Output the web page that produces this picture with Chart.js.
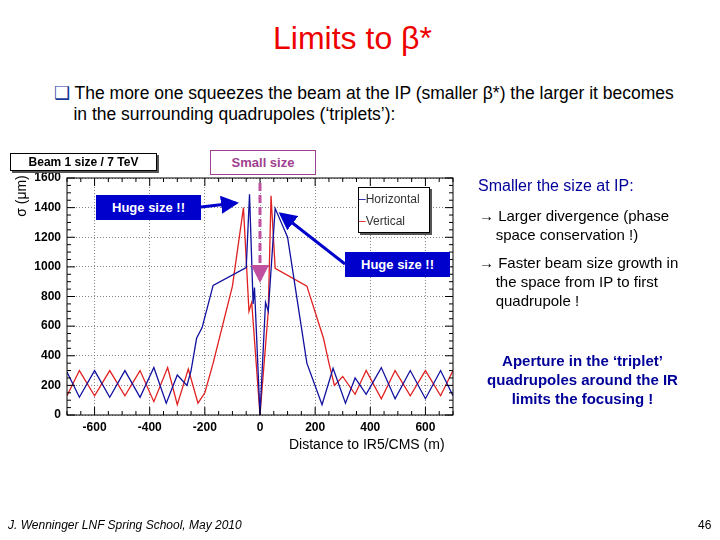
<!DOCTYPE html>
<html><head><meta charset="utf-8">
<script src="https://cdn.jsdelivr.net/npm/chart.js@4/dist/chart.umd.min.js"></script>
<style>
body{margin:0;width:720px;height:540px;background:#fff;font-family:"Liberation Sans",Arial,sans-serif;position:relative;overflow:hidden}
.a{position:absolute;white-space:nowrap}
.box{position:absolute;background:#0000cc;color:#fff;font-weight:bold;font-size:13px;text-align:center;line-height:25px}
</style></head><body>
<div class="a" style="left:0;width:705px;top:20px;text-align:center;color:#ee0000;font-size:32px">Limits to β*</div>
<div class="a" style="left:54px;top:83px;font-size:17.5px;line-height:21px;color:#000"><span style="color:#1a3a9a">❑</span> The more one squeezes the beam at the IP (smaller β*) the larger it becomes<br>&nbsp;&nbsp;&nbsp;&nbsp;in the surrounding quadrupoles (‘triplets’):</div>
<canvas id="c" style="position:absolute;left:10px;top:150px;width:450px;height:310px" width="450" height="310"></canvas>
<div class="a" style="left:10px;top:153px;width:145px;height:16px;border:1px solid #000;box-shadow:2px 2px 0 #555;background:#fff;font-weight:bold;font-size:12px;text-align:center;line-height:16px">Beam 1 size / 7 TeV</div>
<div class="a" style="left:210px;top:150px;width:104px;height:23px;border:1px solid #a04090;background:#fff;color:#a04090;font-weight:bold;font-size:13px;text-align:center;line-height:23px">Small size</div>
<div class="a" style="left:358px;top:187px;width:70px;height:44px;border:1px solid #000;box-shadow:2px 2px 0 #555;background:#fff;font-size:12px;line-height:22px;color:#333"><span style="color:#1010a0">–</span>Horizontal<br><span style="color:#e02020">–</span>Vertical</div>
<div class="box" style="left:96px;top:195px;width:105px">Huge size !!</div>
<div class="box" style="left:345px;top:252px;width:105px">Huge size !!</div>
<div class="a" style="left:10px;top:178px;width:20px;height:40px;"><div style="transform:rotate(-90deg);transform-origin:center;position:absolute;left:-14px;top:10px;width:50px;text-align:center;font-size:14px">σ (μm)</div></div>
<div class="a" style="left:289px;top:436px;font-size:14px">Distance to IR5/CMS (m)</div>
<svg style="position:absolute;left:0;top:0" width="720" height="540">
<defs><marker id="m1" markerWidth="6" markerHeight="6" refX="5" refY="3" orient="auto"><path d="M0,0L6,3L0,6z" fill="#0000cc"/></marker>
<marker id="m2" markerWidth="6" markerHeight="6" refX="5" refY="3" orient="auto"><path d="M0,0L6,3L0,6z" fill="#c050a0"/></marker></defs>
<line x1="201" y1="207" x2="236" y2="203" stroke="#0000cc" stroke-width="3" marker-end="url(#m1)"/>
<line x1="345" y1="264" x2="281" y2="214" stroke="#0000cc" stroke-width="3" marker-end="url(#m1)"/>
<line x1="260" y1="183" x2="260" y2="280" stroke="#c050a0" stroke-width="3" stroke-dasharray="8,4" marker-end="url(#m2)"/>
</svg>
<div class="a" style="left:478px;top:177px;font-size:16px;color:#000099">Smaller the size at IP:</div>
<div class="a" style="left:479px;top:206px;font-size:15px;line-height:19px;color:#000"><b>→</b> Larger divergence (phase<br>&nbsp;&nbsp;&nbsp;&nbsp;space conservation !)</div>
<div class="a" style="left:479px;top:253px;font-size:15px;line-height:19px;color:#000"><b>→</b> Faster beam size growth in<br>&nbsp;&nbsp;&nbsp;&nbsp;the space from IP to first<br>&nbsp;&nbsp;&nbsp;&nbsp;quadrupole !</div>
<div class="a" style="left:465px;width:235px;top:351px;font-size:15px;line-height:19px;color:#000099;font-weight:bold;text-align:center">Aperture in the ‘triplet’<br>quadrupoles around the IR<br>limits the focusing !</div>
<div class="a" style="left:8px;top:518px;font-size:12px;font-style:italic">J. Wenninger LNF Spring School, May 2010</div>
<div class="a" style="left:698px;top:518px;font-size:12px">46</div>
<script>
const hX=[-700,-655,-600,-545,-490,-435,-385,-340,-300,-265,-250,-230,-210,-170,-50,-38,-25,-20,0,20,30,55,100,170,225,265,310,345,385,440,490,545,600,655,700];
const hY=[290,120,300,120,300,120,320,80,270,200,300,518,590,875,995,1490,750,860,0,760,700,1395,1200,350,70,315,80,250,140,320,110,300,110,300,130];
const vX=[-700,-655,-600,-545,-490,-435,-385,-335,-300,-260,-225,-200,-170,-100,-60,-40,-30,0,30,40,55,170,230,250,270,300,345,385,440,490,545,600,655,700];
const vY=[130,300,130,300,130,300,90,320,70,310,80,150,350,870,1400,700,760,0,700,1480,990,870,520,350,200,260,140,300,110,300,130,300,130,300];
const xTicks=[-600,-400,-200,0,200,400,600];
const yTicks=[0,200,400,600,800,1000,1200,1400,1600];
const pts=(xs,ys)=>xs.map((x,i)=>({x,y:ys[i]}));
const frame={id:'f',afterDraw(c){const a=c.chartArea,g=c.ctx;g.save();g.strokeStyle='#000';g.lineWidth=1;g.strokeRect(a.left,a.top,a.right-a.left,a.bottom-a.top);
const xs=c.scales.x,ys=c.scales.y;
for(let v=-700;v<=700;v+=50){const p=xs.getPixelForValue(v),L=v%200===0?8:4;g.beginPath();g.moveTo(p,a.bottom);g.lineTo(p,a.bottom-L);g.moveTo(p,a.top);g.lineTo(p,a.top+L);g.stroke();}
for(let v=0;v<=1600;v+=50){const p=ys.getPixelForValue(v),L=v%200===0?8:4;g.beginPath();g.moveTo(a.left,p);g.lineTo(a.left+L,p);g.moveTo(a.right,p);g.lineTo(a.right-L,p);g.stroke();}
g.restore();}};
const tf={color:'#000',font:{size:12,weight:'bold',family:'Liberation Sans'},callback:v=>String(v)};
new Chart(document.getElementById('c'),{type:'scatter',data:{datasets:[
{label:'Horizontal',data:pts(hX,hY),showLine:true,borderColor:'#1010a0',borderWidth:1.3,pointRadius:0,tension:0},
{label:'Vertical',data:pts(vX,vY),showLine:true,borderColor:'#e02020',borderWidth:1.3,pointRadius:0,tension:0}]},
options:{responsive:false,animation:false,layout:{padding:{top:28,right:7,left:0,bottom:0}},
plugins:{legend:{display:false},tooltip:{enabled:false}},
scales:{x:{type:'linear',min:-700,max:700,afterBuildTicks:s=>{s.ticks=xTicks.map(v=>({value:v}))},afterFit:s=>{s.height=45},
grid:{color:'#666',lineWidth:0.8,drawTicks:false},border:{display:false,dash:[1,2]},ticks:{...tf,padding:5}},
y:{min:0,max:1600,afterBuildTicks:s=>{s.ticks=yTicks.map(v=>({value:v}))},afterFit:s=>{s.width=57},
grid:{color:'#666',lineWidth:0.8,drawTicks:false},border:{display:false,dash:[1,2]},ticks:{...tf,padding:6}}}},
plugins:[frame]});
</script></body></html>
